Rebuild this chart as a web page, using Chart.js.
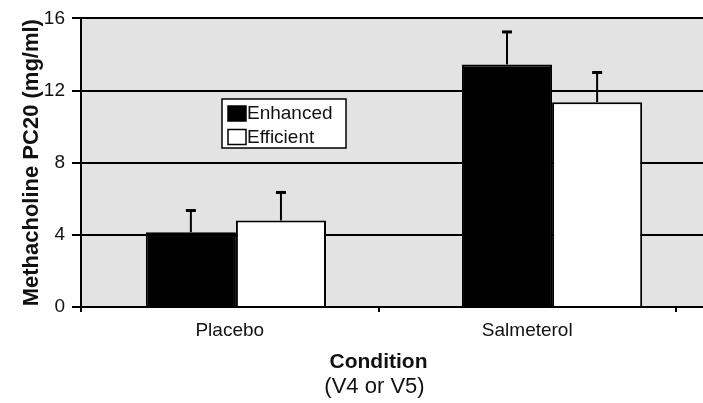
<!DOCTYPE html>
<html>
<head>
<meta charset="utf-8">
<title>Methacholine PC20 by condition</title>
<script src="https://cdn.jsdelivr.net/npm/chart.js@4.4.1/dist/chart.umd.min.js"></script>
<style>
  body { margin: 0; background: #fff; }
  #wrap { position: relative; width: 703px; height: 403px; }
</style>
</head>
<body>
<div id="wrap"><canvas id="pc20Chart"></canvas></div>
<script>
// Values
const conditions = ['Placebo', 'Salmeterol'];
const enhanced = [4.15, 13.45];
const enhancedErr = [1.2, 1.8];
const efficient = [4.8, 11.35];
const efficientErr = [1.55, 1.65];
const yTicks = [0, 4, 8, 12, 16];

const FONT = '"Liberation Sans", Arial, sans-serif';
const PLOT_BG = '#e3e3e3';

// Grey plot area (runs on to the right edge like the cropped original)
const plotBackground = {
  id: 'plotBackground',
  beforeDraw(chart) {
    const {ctx, chartArea, width} = chart;
    ctx.save();
    ctx.fillStyle = PLOT_BG;
    ctx.fillRect(chartArea.left, chartArea.top, width - chartArea.left, chartArea.bottom - chartArea.top);
    ctx.restore();
  },
  beforeDatasetsDraw(chart) {
    const {ctx, chartArea, width, scales} = chart;
    ctx.save();
    ctx.strokeStyle = '#000';
    ctx.lineWidth = 2;
    yTicks.forEach(v => {
      // same pixel snapping Chart.js uses for 2px grid lines
      const y = Math.round(scales.y.getPixelForValue(v) - 1) + 1;
      ctx.beginPath();
      ctx.moveTo(chartArea.right - 1, y);
      ctx.lineTo(width, y);
      ctx.stroke();
    });
    ctx.restore();
  }
};

// Upper error bars only
const errorBars = {
  id: 'errorBars',
  afterDatasetsDraw(chart) {
    const {ctx, scales: {y}} = chart;
    ctx.save();
    ctx.strokeStyle = '#000';
    chart.data.datasets.forEach((ds, di) => {
      chart.getDatasetMeta(di).data.forEach((bar, i) => {
        const top = y.getPixelForValue(ds.data[i].y + ds.errors[i]);
        ctx.lineWidth = 2;
        ctx.beginPath();
        ctx.moveTo(bar.x, bar.y);
        ctx.lineTo(bar.x, top);
        ctx.stroke();
        ctx.lineWidth = 3;
        ctx.beginPath();
        ctx.moveTo(bar.x - 5, top);
        ctx.lineTo(bar.x + 5, top);
        ctx.stroke();
      });
    });
    ctx.restore();
  }
};

// Boxed legend inside the plot + second line of the x title
const boxLegend = {
  id: 'boxLegend',
  afterDraw(chart) {
    const {ctx, chartArea} = chart;
    const left = 222, top = 99, w = 124, h = 49;
    ctx.save();
    ctx.fillStyle = '#fff';
    ctx.fillRect(left, top, w, h);
    ctx.strokeStyle = '#000';
    ctx.lineWidth = 1.5;
    ctx.strokeRect(left, top, w, h);

    ctx.font = '19px ' + FONT;
    ctx.textBaseline = 'middle';
    chart.data.datasets.forEach((ds, i) => {
      const rowY = top + 14.5 + i * 23.5;
      ctx.fillStyle = ds.backgroundColor;
      ctx.fillRect(left + 6, rowY - 7.5, 18, 15);
      ctx.lineWidth = 1.5;
      ctx.strokeRect(left + 6, rowY - 7.5, 18, 15);
      ctx.fillStyle = '#111';
      ctx.fillText(ds.label, left + 25, rowY + 0.5);
    });

    ctx.font = '22px ' + FONT;
    ctx.textAlign = 'center';
    ctx.fillText('(V4 or V5)', (chartArea.left + chartArea.right) / 2 - 4, 387);
    ctx.restore();
  }
};

const ctx = document.getElementById('pc20Chart').getContext('2d');
new Chart(ctx, {
  type: 'bar',
  data: {
    labels: conditions,
    datasets: [{
      label: 'Enhanced',
      xAxisID: 'xb',
      data: enhanced.map((v, i) => ({x: i, y: v})),
      errors: enhancedErr,
      backgroundColor: '#000',
      borderColor: '#000',
      borderWidth: 2
    }, {
      label: 'Efficient',
      xAxisID: 'xb',
      data: efficient.map((v, i) => ({x: i, y: v})),
      errors: efficientErr,
      backgroundColor: '#fff',
      borderColor: '#000',
      borderWidth: 2
    }]
  },
  options: {
    responsive: true,
    maintainAspectRatio: false,
    animation: false,
    devicePixelRatio: 1,
    layout: { padding: { top: 14, right: 27, left: 0, bottom: 0 } },
    plugins: {
      legend: { display: false },
      tooltip: { enabled: false }
    },
    scales: {
      x: {
        type: 'category',
        offset: true,
        grid: { display: true, drawOnChartArea: false, offset: true, tickLength: 5, color: '#000', lineWidth: 2 },
        border: { color: '#000', width: 2 },
        ticks: { color: '#111', padding: 7, font: { family: FONT, size: 19 } },
        title: {
          display: true,
          text: 'Condition',
          color: '#111',
          font: { family: FONT, size: 21, weight: 'bold' },
          padding: { top: 4, bottom: 28 }
        },
        afterFit: s => { s.height = 96; }
      },
      // bars sit a little right of the category centres in the original
      xb: {
        type: 'linear',
        display: false,
        offset: false,
        min: -0.49,
        max: 1.392,
        afterBuildTicks: s => { s.ticks = conditions.map((c, i) => ({value: i})); },
        grid: { offset: false }
      },
      y: {
        min: 0,
        max: 16,
        afterBuildTicks: s => { s.ticks = yTicks.map(v => ({value: v})); },
        grid: { color: '#000', lineWidth: 2, tickLength: 9 },
        border: { color: '#000', width: 2 },
        ticks: { color: '#111', padding: 7, font: { family: FONT, size: 19 } },
        title: {
          display: true,
          text: 'Methacholine PC20 (mg/ml)',
          color: '#111',
          font: { family: FONT, size: 22, weight: 'bold' },
          padding: { top: 19, bottom: 0 }
        },
        afterFit: s => { s.width = 81; }
      }
    },
    datasets: {
      bar: { categoryPercentage: 0.57, barPercentage: 1 }
    }
  },
  plugins: [plotBackground, errorBars, boxLegend]
});
</script>
</body>
</html>
